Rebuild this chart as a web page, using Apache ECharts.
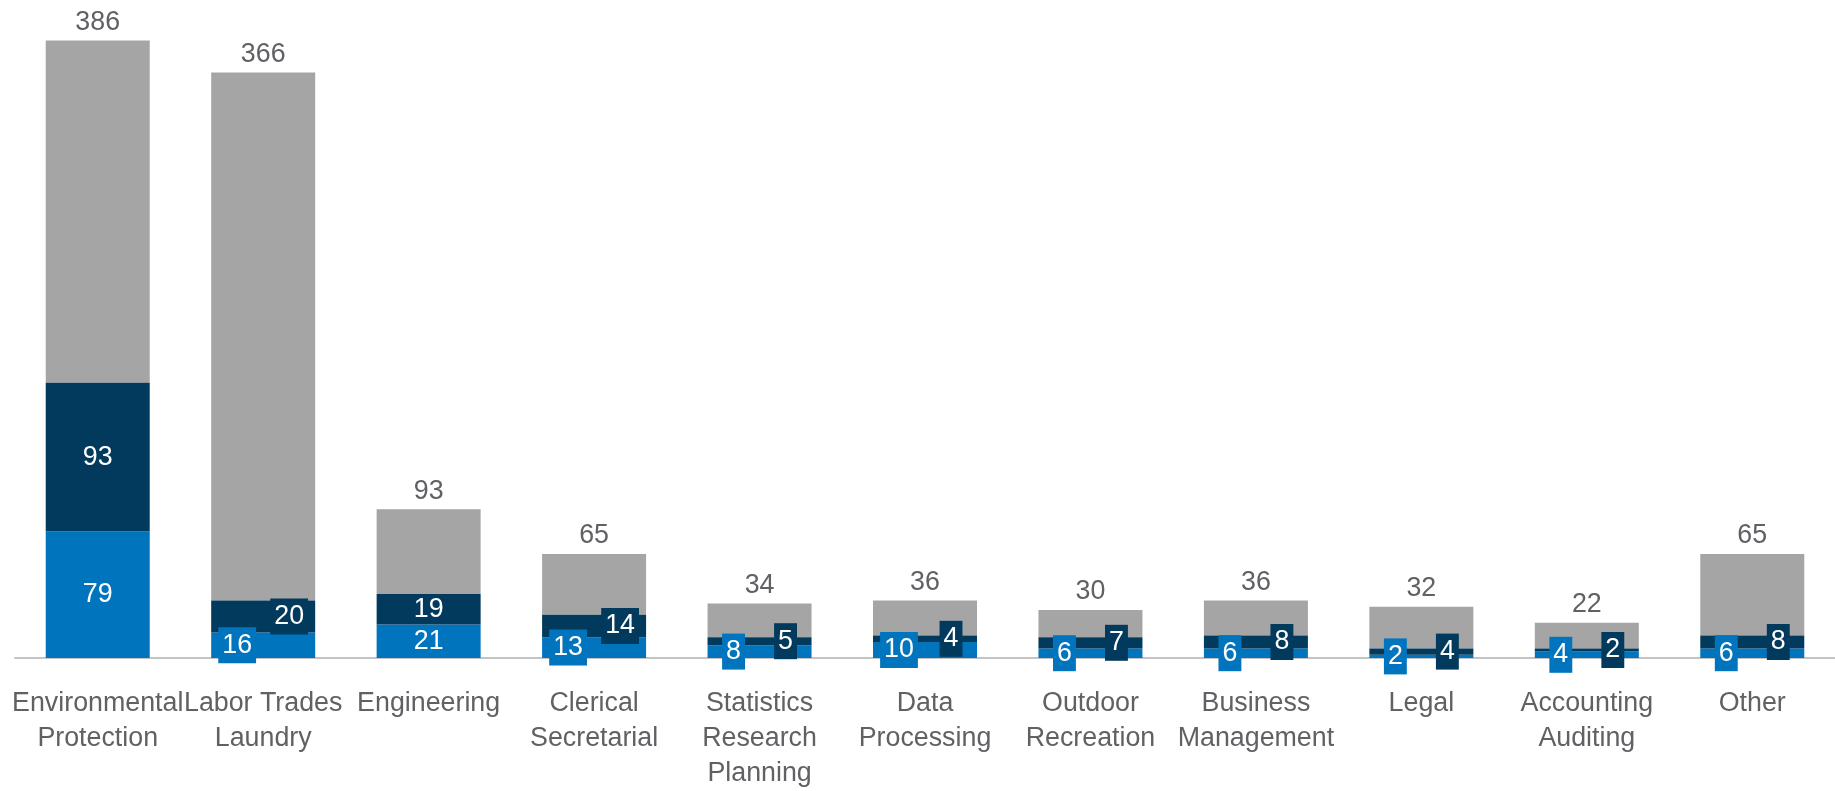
<!DOCTYPE html>
<html>
<head>
<meta charset="utf-8">
<script src="https://cdn.jsdelivr.net/npm/echarts@6/dist/echarts.min.js"></script>
<style>
  html, body { margin: 0; padding: 0; background: #ffffff; }
  #chart { width: 1835px; height: 791px; }
</style>
</head>
<body>
<div id="chart"></div>
<script>
// ---- data ----
const categories = [
  'Environmental\nProtection', 'Labor Trades\nLaundry', 'Engineering',
  'Clerical\nSecretarial', 'Statistics\nResearch\nPlanning', 'Data\nProcessing',
  'Outdoor\nRecreation', 'Business\nManagement', 'Legal',
  'Accounting\nAuditing', 'Other'
];
const blueValues = [79, 16, 21, 13, 8, 10, 6, 6, 2, 4, 6];
const navyValues = [93, 20, 19, 14, 5, 4, 7, 8, 4, 2, 8];
const grayValues = [214, 330, 53, 38, 21, 22, 17, 22, 26, 16, 51];

// ---- styles ----
const BLUE = '#0075BE';
const NAVY = '#023A5D';
const GRAY = '#A5A5A5';
const TEXT = '#5F6164';
const FONT = '"Liberation Sans", Arial, sans-serif';
const FS = 26.8;
const centeredIdx = [0, 2];       // categories whose labels stay centred
const SHIFT = 26;                 // side shift of small-value labels

function segLabel(i, color, dir) {
  const centered = centeredIdx.indexOf(i) >= 0;
  return {
    show: true,
    position: 'inside',
    offset: [centered ? 0 : dir * SHIFT, 0],
    color: '#ffffff',
    fontSize: FS,
    fontFamily: FONT,
    lineHeight: 30,
    backgroundColor: centered ? 'transparent' : color,
    padding: [3, 4, 3, 4]
  };
}

const blueData = blueValues.map((v, i) => ({ value: v, label: segLabel(i, BLUE, -1) }));
const navyData = navyValues.map((v, i) => ({ value: v, label: segLabel(i, NAVY, 1) }));
const totals = grayValues.map((v, i) => v + blueValues[i] + navyValues[i]);

const chart = echarts.init(document.getElementById('chart'), null, { renderer: 'canvas' });
chart.setOption({
  animation: false,
  backgroundColor: '#ffffff',
  grid: { left: 15, width: 1832, top: 18, bottom: 128, containLabel: false },
  xAxis: {
    type: 'category',
    data: categories,
    axisLine: { show: true, lineStyle: { color: '#C4C4C4', width: 2 } },
    axisTick: { show: false },
    axisLabel: {
      interval: 0,
      margin: 28,
      color: TEXT,
      fontSize: FS,
      fontFamily: FONT,
      lineHeight: 35
    }
  },
  yAxis: {
    type: 'value', min: 0, max: 400,
    show: false,
    splitLine: { show: false }
  },
  series: [
    {
      name: 'blue', type: 'bar', stack: 's', barWidth: 104,
      itemStyle: { color: BLUE },
      data: blueData, z: 3
    },
    {
      name: 'navy', type: 'bar', stack: 's', barWidth: 104,
      itemStyle: { color: NAVY },
      data: navyData, z: 3
    },
    {
      name: 'gray', type: 'bar', stack: 's', barWidth: 104,
      itemStyle: { color: GRAY },
      data: grayValues, z: 2,
      label: {
        show: true, position: 'top', distance: 3,
        color: TEXT, fontSize: FS, fontFamily: FONT, lineHeight: 30,
        formatter: p => String(totals[p.dataIndex])
      }
    }
  ]
});
</script>
</body>
</html>
